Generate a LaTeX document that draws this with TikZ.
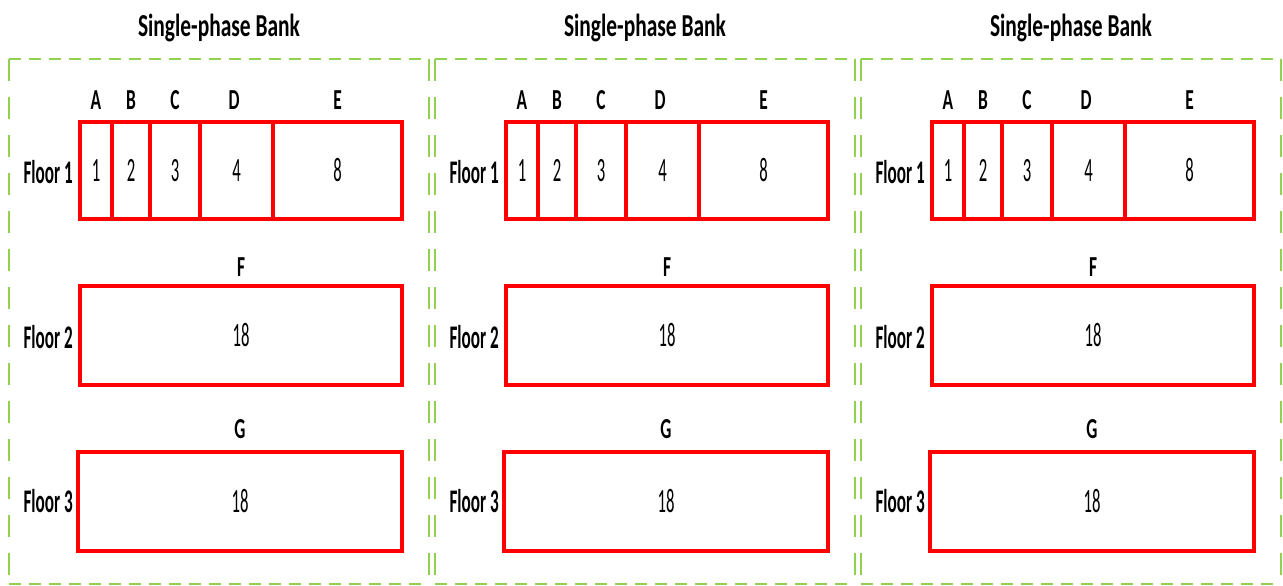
\documentclass[tikz,border=0pt]{standalone}
\usepackage{fontspec}
\newfontfamily\titlefont[FakeStretch=0.67]{Carlito}
\newfontfamily\floorfont[FakeStretch=0.52]{Carlito}
\newfontfamily\colfont[FakeStretch=0.6]{Carlito}
\newfontfamily\numfont[FakeStretch=0.49]{Carlito}
\definecolor{bankgreen}{RGB}{146,208,80}
\definecolor{cellred}{RGB}{255,0,0}
\tikzset{
  banktitle/.style={font=\titlefont\bfseries\fontsize{32}{34}\selectfont, inner sep=0pt},
  floorlabel/.style={font=\floorfont\bfseries\fontsize{33}{35}\selectfont, inner sep=0pt, anchor=east},
  collabel/.style={font=\colfont\bfseries\fontsize{29}{31}\selectfont, inner sep=0pt},
  cell/.style={draw=cellred, line width=3.5pt, inner sep=0pt,
    font=\numfont\fontsize{34}{36}\selectfont},
  bankh/.style={draw=bankgreen, line width=2pt, dash pattern=on 12pt off 8pt},
  bankv/.style={draw=bankgreen, line width=2pt, dash pattern=on 22pt off 16pt},
}
\begin{document}
\begin{tikzpicture}[x=1pt, y=-1pt]
\useasboundingbox (0,0) rectangle (1283,586);
\foreach \p/\ox in {1/0, 2/426, 3/852} {
  \begin{scope}[xshift=\ox pt]
    % bank outline
    \coordinate (nw\p) at (9,59);
    \coordinate (ne\p) at (429,59);
    \coordinate (sw\p) at (9,584);
    \coordinate (se\p) at (429,584);
    \draw[bankh] (nw\p) -- (ne\p);
    \draw[bankh] (sw\p) -- (se\p);
    \draw[bankv] (nw\p) -- (sw\p);
    \draw[bankv] (ne\p) -- (se\p);
    \node[banktitle] (title\p) at (219,28) {Single-phase Bank};
    % floor 1: five cells
    \node[cell, minimum width=32pt, minimum height=97pt] (a\p) at (96,170.5) {1};
    \node[cell, minimum width=38pt, minimum height=97pt] (b\p) at (131,170.5) {2};
    \node[cell, minimum width=50pt, minimum height=97pt] (c\p) at (175,170.5) {3};
    \node[cell, minimum width=73pt, minimum height=97pt] (d\p) at (236.5,170.5) {4};
    \node[cell, minimum width=129pt, minimum height=97pt] (e\p) at (337.5,170.5) {8};
    \node[collabel] (la\p) at (96,100) {A};
    \node[collabel] (lb\p) at (131,100) {B};
    \node[collabel] (lc\p) at (175,100) {C};
    \node[collabel] (ld\p) at (234,100) {D};
    \node[collabel] (le\p) at (337.5,100) {E};
    \node[floorlabel] (fl1\p) at (73,172) {Floor 1};
    % floor 2
    \node[cell, minimum width=322pt, minimum height=99pt] (f\p) at (241,335.5) {18};
    \node[collabel] (lf\p) at (241,267) {F};
    \node[floorlabel] (fl2\p) at (73,337) {Floor 2};
    % floor 3
    \node[cell, minimum width=324pt, minimum height=99pt] (g\p) at (240,501.5) {18};
    \node[collabel] (lg\p) at (240,429) {G};
    \node[floorlabel] (fl3\p) at (73,501) {Floor 3};
  \end{scope}
}
\end{tikzpicture}
\end{document}
